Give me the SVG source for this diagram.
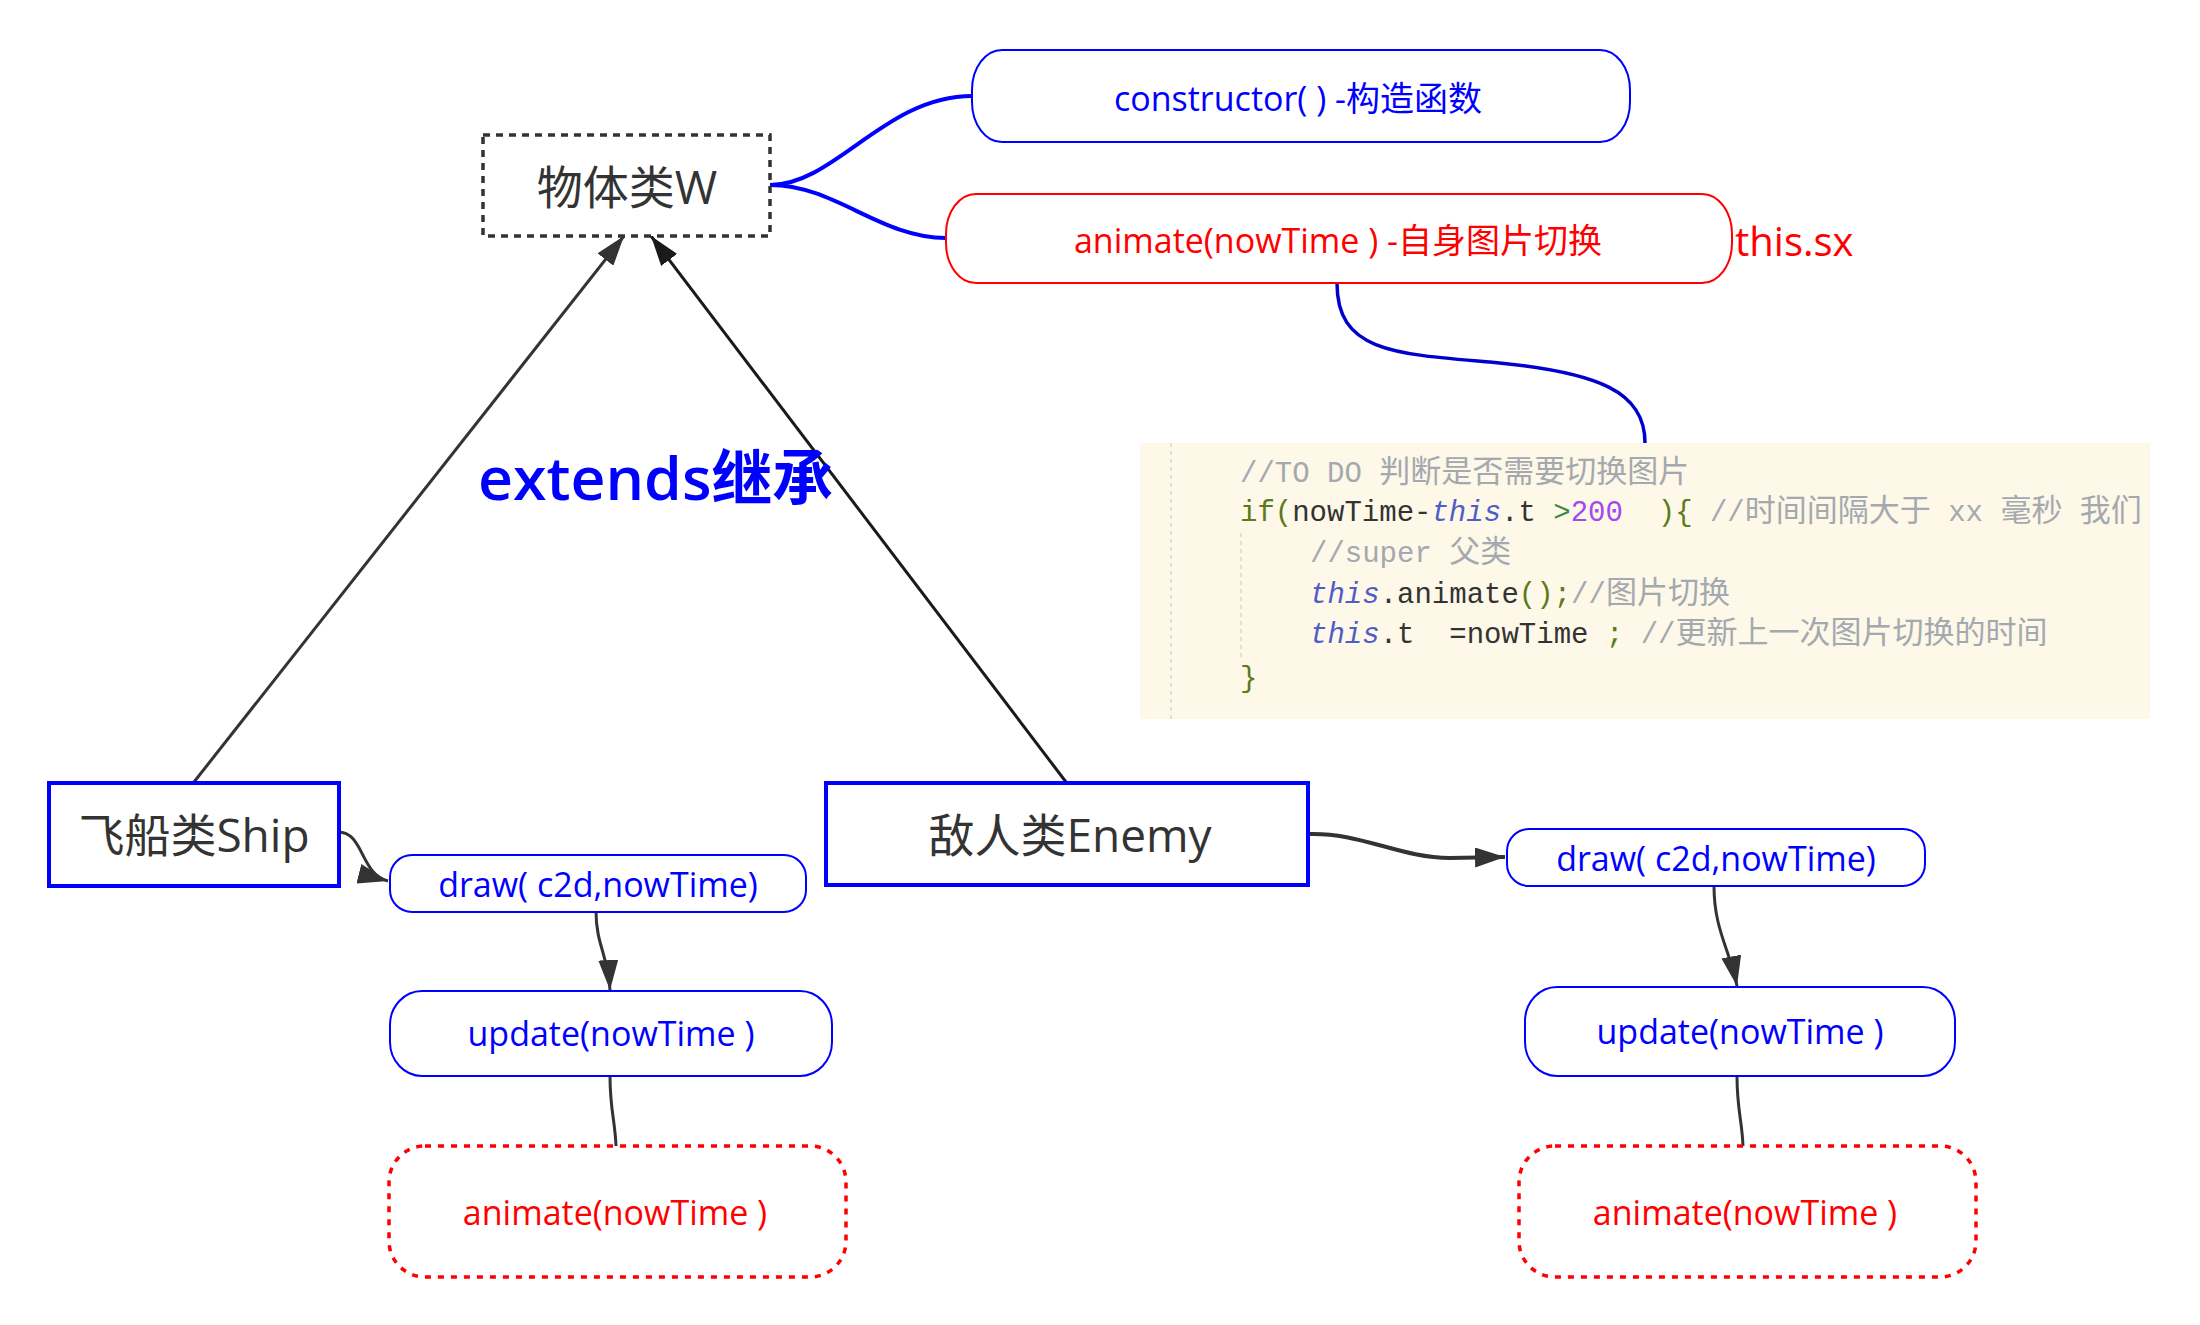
<svg xmlns="http://www.w3.org/2000/svg" width="2200" height="1325" viewBox="0 0 2200 1325">
<defs>
<style>
.ui{font-family:"Open Sans","Noto Sans CJK SC",sans-serif}
.big{font-size:46px;fill:#333}
.sm{font-size:34px}
.blue{fill:#0000ff}
.red{fill:#ff0000}
.bnode{fill:#fff;stroke:#0000ff;stroke-width:2}
.rnode{fill:#fff;stroke:#ff0000;stroke-width:2}
.dotred{fill:#fff;stroke:#ff0000;stroke-width:3.5;stroke-dasharray:6 7}
.cls{fill:#fff;stroke:#0000ff;stroke-width:4}
.edge{fill:none;stroke:#333;stroke-width:3}
.code{font-family:"Liberation Mono","Noto Sans CJK SC",monospace;font-size:29px;fill:#333;white-space:pre}
.cm{fill:#a3a9af}
.cj{font-size:31px}
.kw{fill:#5c7a1a}
.th{fill:#4f5dc9;font-style:italic}
.num{fill:#a448f0}
.op{fill:#3d8a3d}
</style>
<marker id="arr" viewBox="0 0 30 20" refX="30" refY="10" markerWidth="30" markerHeight="20" markerUnits="userSpaceOnUse" orient="auto">
<path d="M0,0 L30,10 L0,20 z" fill="#333"/>
</marker>
<marker id="arr2" viewBox="0 0 30 20" refX="30" refY="10" markerWidth="30" markerHeight="20" markerUnits="userSpaceOnUse" orient="auto">
<path d="M0,0 L30,10 L0,20 z" fill="#1a1a1a"/>
</marker>
<clipPath id="codeclip"><rect x="1140" y="443" width="1010" height="276"/></clipPath>
</defs>
<rect width="2200" height="1325" fill="#fff"/>

<g id="connectors">
<path d="M770,185 C835,185 885,96 972,96" fill="none" stroke="#0000ff" stroke-width="4"/>
<path d="M770,185 C835,185 880,238 946,238" fill="none" stroke="#0000ff" stroke-width="4"/>
<path d="M1337,283 C1337,350 1390,354 1490,362 C1600,372 1645,392 1645,443" fill="none" stroke="#0000cc" stroke-width="3.5"/>
<path class="edge" d="M194,782 L624,236" marker-end="url(#arr)"/>
<path d="M1066,782 L651,236" fill="none" stroke="#1a1a1a" stroke-width="3" marker-end="url(#arr2)"/>
<path class="edge" d="M338,832 C364,832 360,874 388,881" marker-end="url(#arr)"/>
<path class="edge" d="M596,911 C596,945 608,955 610,990" marker-end="url(#arr)"/>
<path class="edge" d="M610,1076 C610,1110 615,1120 616,1146"/>
<path d="M1308,834 C1360,832 1400,858 1450,858 L1505,857" fill="none" stroke="#333" stroke-width="4" marker-end="url(#arr)"/>
<path class="edge" d="M1714,886 C1714,930 1730,950 1737,986" marker-end="url(#arr)"/>
<path class="edge" d="M1737,1076 C1737,1110 1742,1120 1743,1146"/>
</g>

<g id="node-w">
<rect x="483" y="135" width="287" height="101" fill="#fff" stroke="#333" stroke-width="3.5" stroke-dasharray="7 6"/>
<text class="ui big" x="627" y="204" text-anchor="middle">物体类W</text>
</g>

<g id="node-constructor">
<rect class="bnode" x="972" y="50" width="658" height="92" rx="30" ry="40"/>
<text class="ui sm blue" x="1298" y="111" text-anchor="middle">constructor( ) -构造函数</text>
</g>

<g id="node-animate-main">
<rect class="rnode" x="946" y="194" width="786" height="89" rx="30" ry="40"/>
<text class="ui sm red" x="1338" y="253" text-anchor="middle">animate(nowTime ) -自身图片切换</text>
</g>

<g id="label-thissx">
<text class="ui red" x="1735" y="256" font-size="40">this.sx</text>
</g>

<g id="code-block">
<rect x="1140" y="443" width="1010" height="276" fill="#fdf8e8"/>
<line x1="1171" y1="443" x2="1171" y2="719" stroke="#d9d6c8" stroke-width="1.5" stroke-dasharray="4 4"/>
<line x1="1241" y1="533" x2="1241" y2="657" stroke="#d9d6c8" stroke-width="1.5" stroke-dasharray="4 4"/>
<g clip-path="url(#codeclip)">
<text class="code" x="1240" y="482" xml:space="preserve"><tspan class="cm">//TO DO </tspan><tspan class="cm cj">判断是否需要切换图片</tspan></text>
<text class="code" x="1240" y="521" xml:space="preserve"><tspan class="kw">if(</tspan>nowTime-<tspan class="th">this</tspan>.t <tspan class="op">&gt;</tspan><tspan class="num">200</tspan>  <tspan class="kw">){</tspan><tspan class="cm"> //</tspan><tspan class="cm cj">时间间隔大于</tspan><tspan class="cm"> xx </tspan><tspan class="cm cj">毫秒</tspan><tspan class="cm"> </tspan><tspan class="cm cj">我们</tspan></text>
<text class="code" x="1310" y="562" xml:space="preserve"><tspan class="cm">//super </tspan><tspan class="cm cj">父类</tspan></text>
<text class="code" x="1310" y="603" xml:space="preserve"><tspan class="th">this</tspan>.animate<tspan class="kw">();</tspan><tspan class="cm">//</tspan><tspan class="cm cj">图片切换</tspan></text>
<text class="code" x="1310" y="643" xml:space="preserve"><tspan class="th">this</tspan>.t  =nowTime <tspan class="kw">;</tspan><tspan class="cm"> //</tspan><tspan class="cm cj">更新上一次图片切换的时间</tspan></text>
<text class="code" x="1240" y="687"><tspan class="kw">}</tspan></text>
</g>
</g>

<g id="label-extends">
<text x="478" y="500" font-family="'Open Sans','Noto Sans CJK SC',sans-serif" font-weight="600" font-size="60" fill="#0000ff" textLength="355" lengthAdjust="spacingAndGlyphs">extends继承</text>
</g>

<g id="node-ship">
<rect class="cls" x="49" y="783" width="290" height="103"/>
<text class="ui big" x="194" y="852" text-anchor="middle">飞船类Ship</text>
</g>

<g id="node-enemy">
<rect class="cls" x="826" y="783" width="482" height="102"/>
<text class="ui big" x="1070" y="852" text-anchor="middle">敌人类Enemy</text>
</g>

<g id="node-ship-draw">
<rect class="bnode" x="390" y="855" width="416" height="57" rx="22" ry="22"/>
<text class="ui sm blue" x="598" y="897" text-anchor="middle">draw( c2d,nowTime)</text>
</g>

<g id="node-ship-update">
<rect class="bnode" x="390" y="991" width="442" height="85" rx="32" ry="34"/>
<text class="ui sm blue" x="611" y="1046" text-anchor="middle">update(nowTime )</text>
</g>

<g id="node-ship-animate">
<rect class="dotred" x="389" y="1146" width="457" height="131" rx="36" ry="36"/>
<text class="ui sm red" x="615" y="1225" text-anchor="middle">animate(nowTime )</text>
</g>

<g id="node-enemy-draw">
<rect class="bnode" x="1507" y="829" width="418" height="57" rx="22" ry="22"/>
<text class="ui sm blue" x="1716" y="871" text-anchor="middle">draw( c2d,nowTime)</text>
</g>

<g id="node-enemy-update">
<rect class="bnode" x="1525" y="987" width="430" height="89" rx="32" ry="34"/>
<text class="ui sm blue" x="1740" y="1044" text-anchor="middle">update(nowTime )</text>
</g>

<g id="node-enemy-animate">
<rect class="dotred" x="1519" y="1146" width="457" height="131" rx="36" ry="36"/>
<text class="ui sm red" x="1745" y="1225" text-anchor="middle">animate(nowTime )</text>
</g>
</svg>
